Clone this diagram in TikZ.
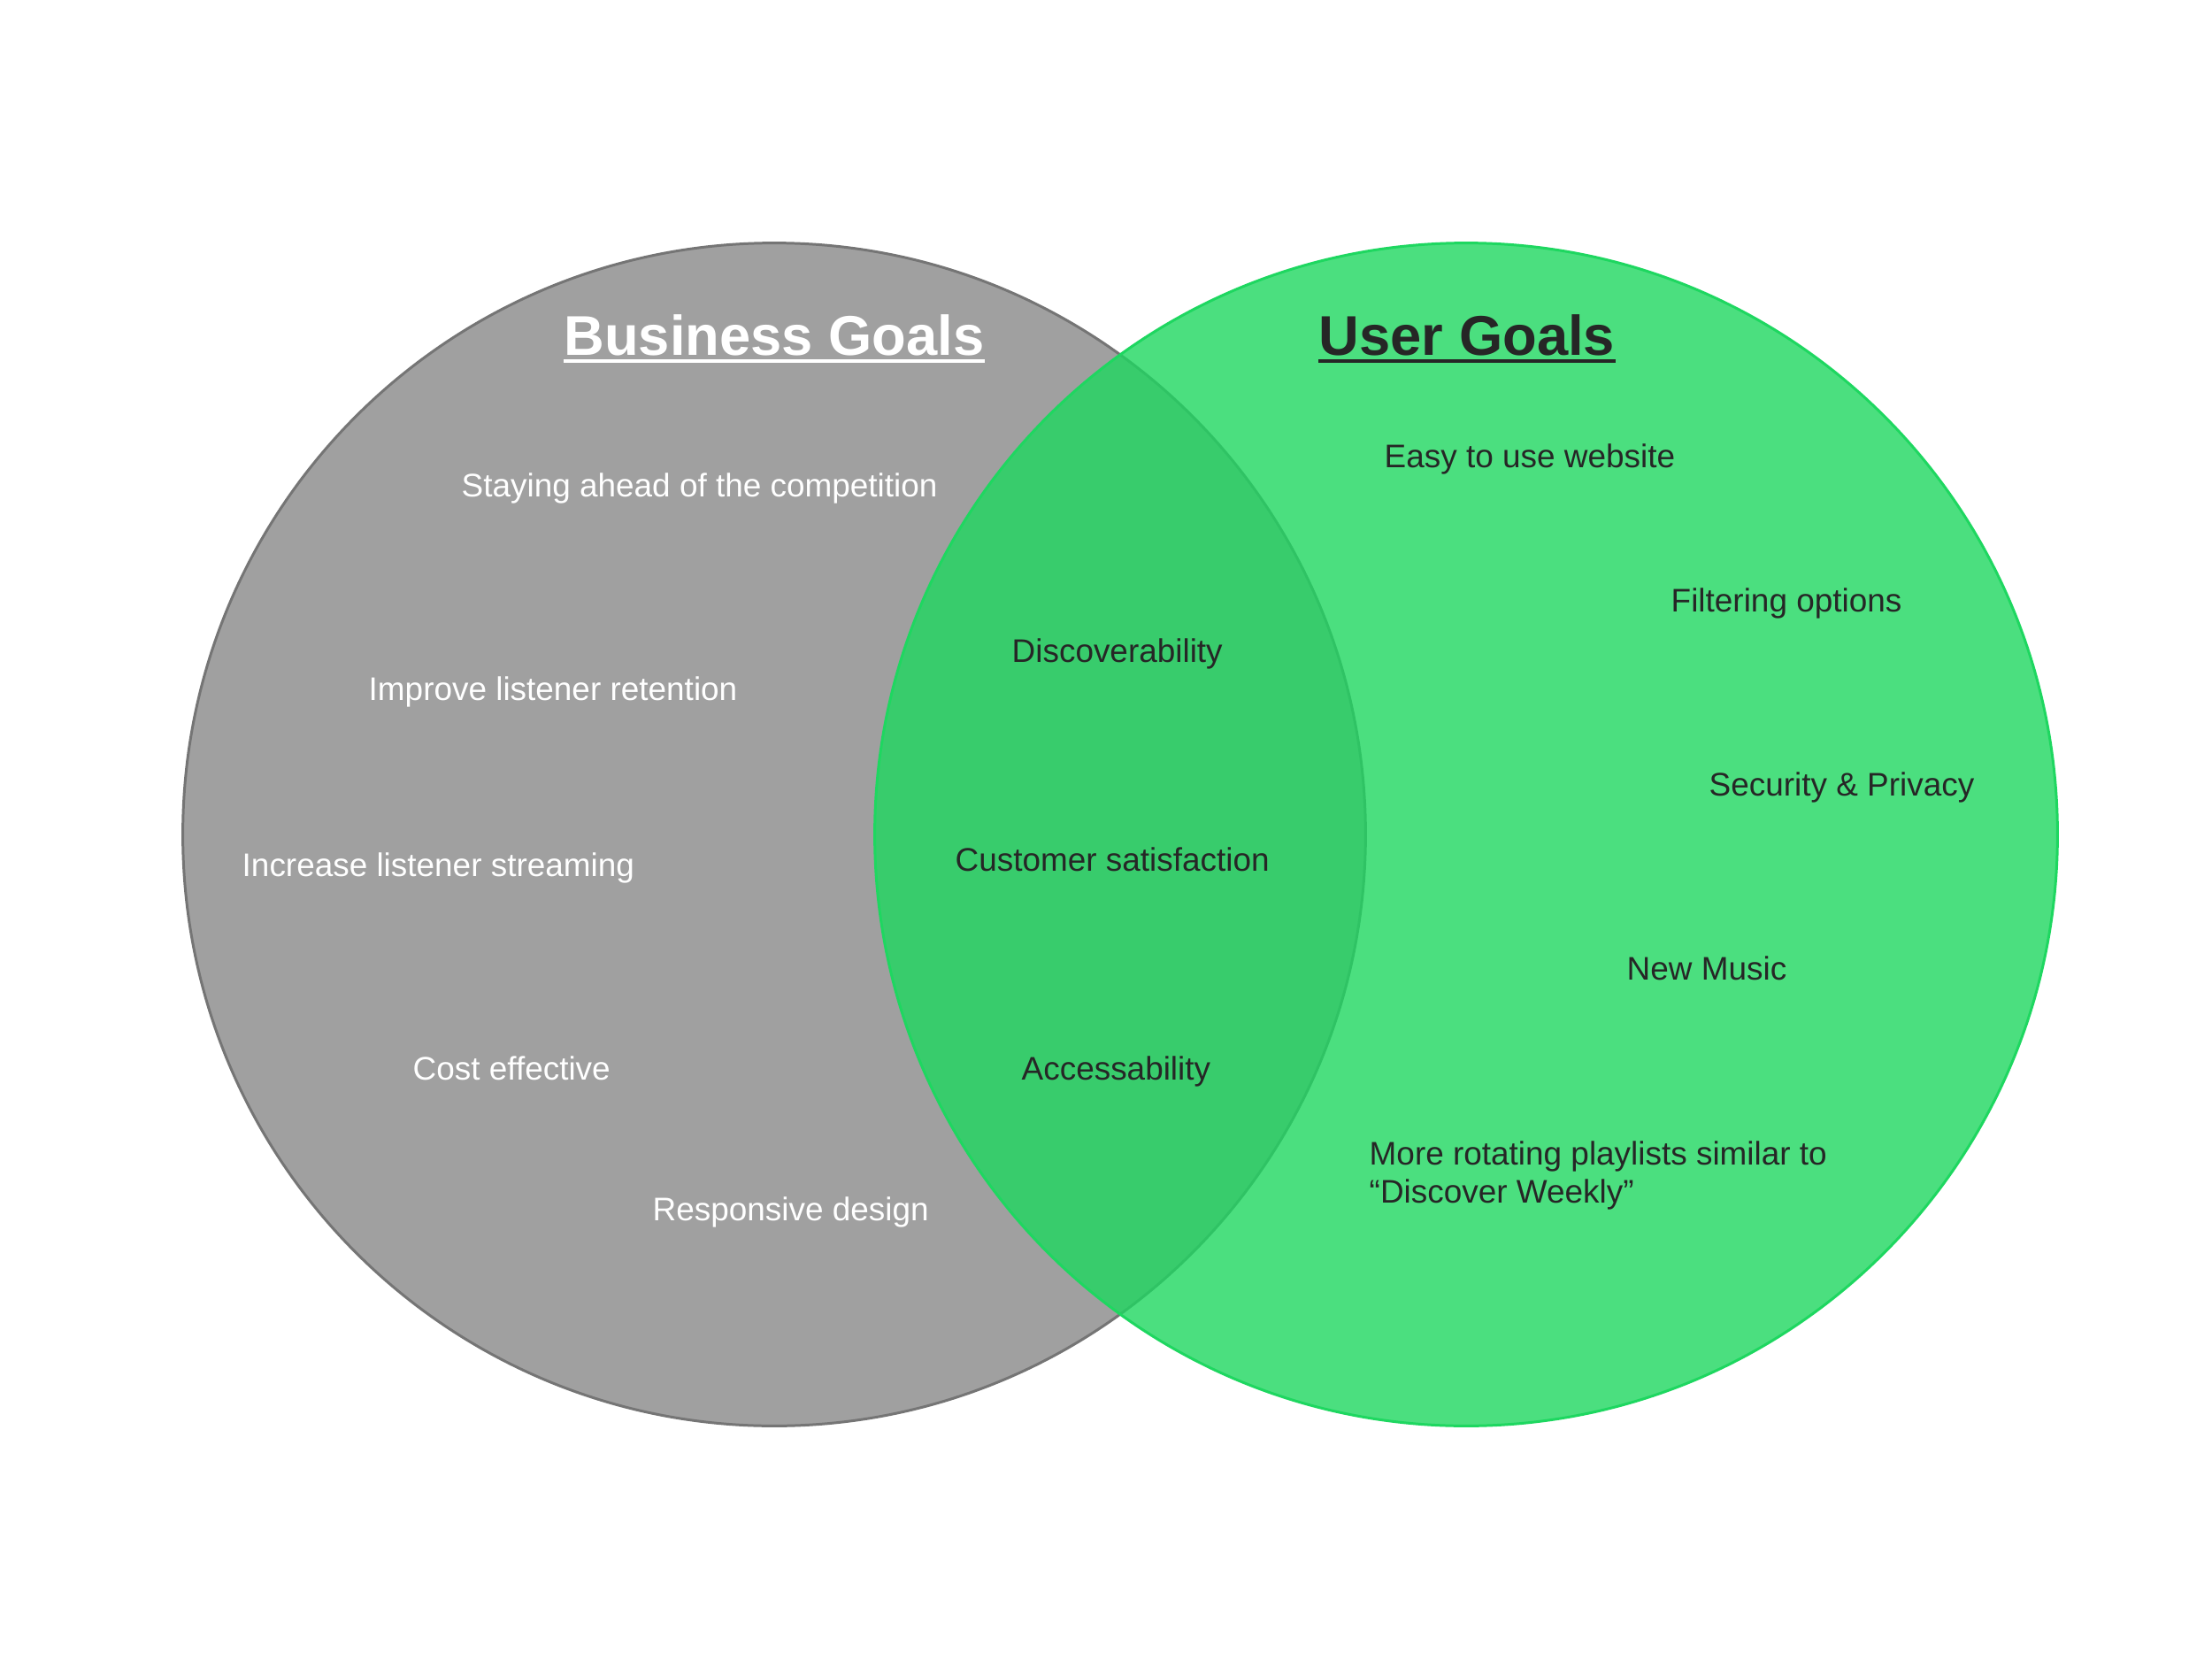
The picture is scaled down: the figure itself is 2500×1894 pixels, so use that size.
\documentclass[tikz,border=0pt]{standalone}
\usepackage{fontspec}
\setmainfont{Liberation Sans}

\definecolor{bizgray}{HTML}{A0A0A0}
\definecolor{bizedge}{HTML}{757575}
\definecolor{spotgreen}{HTML}{1ED760}
\definecolor{darktext}{HTML}{262626}

\begin{document}
\begin{tikzpicture}[x=0.01cm,y=-0.01cm,
    heading/.style={inner sep=0pt,anchor=base,font=\fontsize{18pt}{22pt}\selectfont\bfseries},
    goal/.style={inner sep=0pt,anchor=base west,font=\fontsize{10.5pt}{12.2pt}\selectfont},
    bizgoal/.style={goal,text=white},
    usergoal/.style={goal,text=darktext}]

    \useasboundingbox (0,0) rectangle (2500,1894);
    \fill[white] (0,0) rectangle (2500,1894);

    % the two sets
    \node[circle,draw=bizedge,line width=0.85pt,fill=bizgray,minimum size=13.36cm,inner sep=0pt] (business) at (875,943) {};
    \node[circle,draw=spotgreen,line width=0.85pt,fill=spotgreen,fill opacity=0.8,minimum size=13.36cm,inner sep=0pt] (user) at (1657,943) {};

    % headings
    \node[heading,text=white] (bgoals) at (875,401) {Business Goals};
    \draw[white,line width=0.9pt] ([yshift=-2pt]bgoals.base west) -- ([yshift=-2pt]bgoals.base east);
    \node[heading,text=darktext] (ugoals) at (1658,401) {User Goals};
    \draw[darktext,line width=0.9pt] ([yshift=-2pt]ugoals.base west) -- ([yshift=-2pt]ugoals.base east);

    % business only
    \node[bizgoal] (ahead) at (521,561) {Staying ahead of the competition};
    \node[bizgoal] (retention) at (416,791) {Improve listener retention};
    \node[bizgoal] (streaming) at (273,990) {Increase listener streaming};
    \node[bizgoal] (cost) at (466,1220) {Cost effective};
    \node[bizgoal] (responsive) at (737,1379) {Responsive design};

    % both
    \node[usergoal] (discover) at (1143,748) {Discoverability};
    \node[usergoal] (satisfaction) at (1079,984) {Customer satisfaction};
    \node[usergoal] (access) at (1154,1220) {Accessability};

    % user only
    \node[usergoal] (easy) at (1564,528) {Easy to use website};
    \node[usergoal] (filter) at (1888,691) {Filtering options};
    \node[usergoal] (security) at (1931,899) {Security \& Privacy};
    \node[usergoal] (newmusic) at (1838,1107) {New Music};
    \node[usergoal] (playlists) at (1547,1316) {More rotating playlists similar to};
    \node[usergoal] (weekly) at (1547,1359) {“Discover Weekly”};

\end{tikzpicture}
\end{document}
